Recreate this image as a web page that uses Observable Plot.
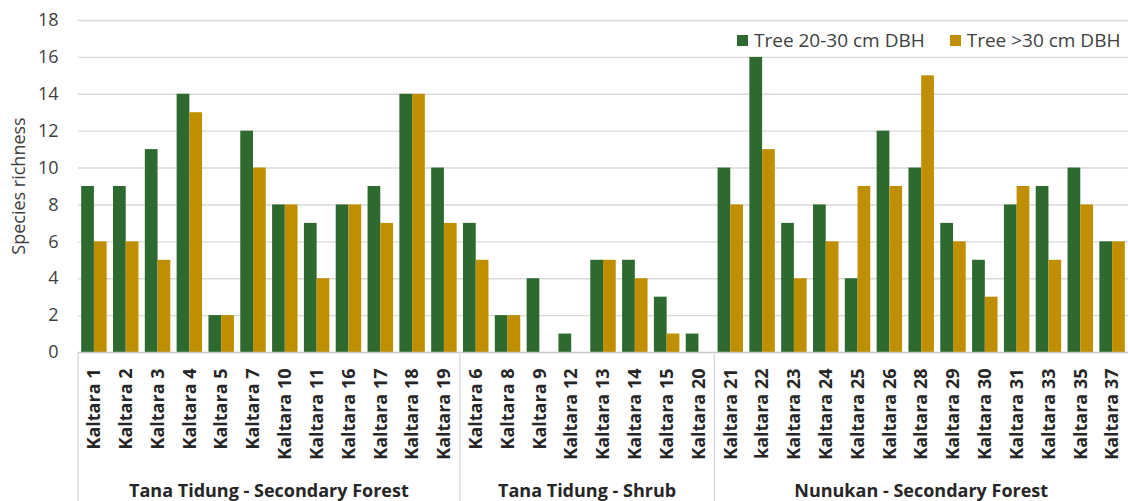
<!DOCTYPE html>
<html>
<head>
<meta charset="utf-8">
<script src="https://cdn.jsdelivr.net/npm/d3@7"></script>
<script src="https://cdn.jsdelivr.net/npm/@observablehq/plot@0.6"></script>
<style>
  html, body { margin: 0; padding: 0; background: #ffffff; }
  #chart { position: relative; width: 1128px; height: 501px; overflow: hidden; font-family: "Open Sans", sans-serif; }
  #legend { position: absolute; top: 27px; left: 737px; display: flex; align-items: center; font-size: 19px; color: #404040; white-space: nowrap; }
  #legend .sw { display: inline-block; width: 11px; height: 11px; margin-right: 6px; }
  #legend .item { display: flex; align-items: center; margin-right: 25px; }
</style>
</head>
<body>
<div id="chart"><div id="legend"></div></div>
<script>
// ---- data ----
const groupNames = ["Tana Tidung - Secondary Forest", "Tana Tidung - Shrub", "Nunukan - Secondary Forest"];
const groupSites = [
  ["Kaltara 1", "Kaltara 2", "Kaltara 3", "Kaltara 4", "Kaltara 5", "Kaltara 7", "Kaltara 10", "Kaltara 11", "Kaltara 16", "Kaltara 17", "Kaltara 18", "Kaltara 19"],
  ["Kaltara 6", "Kaltara 8", "Kaltara 9", "Kaltara 12", "Kaltara 13", "Kaltara 14", "Kaltara 15", "Kaltara 20"],
  ["Kaltara 21", "kaltara 22", "Kaltara 23", "Kaltara 24", "Kaltara 25", "Kaltara 26", "Kaltara 28", "Kaltara 29", "Kaltara 30", "Kaltara 31", "Kaltara 33", "Kaltara 35", "Kaltara 37"]
];
const tree20to30 = [9, 9, 11, 14, 2, 12, 8, 7, 8, 9, 14, 10,
                    7, 2, 4, 1, 5, 5, 3, 1,
                    10, 16, 7, 8, 4, 12, 10, 7, 5, 8, 9, 10, 6];
const treeOver30 = [6, 6, 5, 13, 2, 10, 8, 4, 8, 7, 14, 7,
                    5, 2, 0, 0, 5, 4, 1, 0,
                    8, 11, 4, 6, 9, 9, 15, 6, 3, 9, 5, 8, 6];
const seriesNames = ["Tree 20-30 cm DBH", "Tree >30 cm DBH"];
const seriesColors = ["#2e6a30", "#bf8f00"];
const yTicks = [0, 2, 4, 6, 8, 10, 12, 14, 16, 18];
const yLabel = "Species richness";

// ---- derived table ----
const sites = groupSites.flat();
const rows = sites.flatMap((s, i) => [
  {site: s, series: seriesNames[0], value: tree20to30[i]},
  {site: s, series: seriesNames[1], value: treeOver30[i]}
]);

const W = 1128, H = 501;
const M = {left: 78, right: 0, top: 20, bottom: 149};
const FONT = "'Open Sans', sans-serif";

function makePlot(half) {
  return Plot.plot({
    width: W, height: H,
    marginLeft: M.left, marginRight: M.right, marginTop: M.top, marginBottom: M.bottom,
    style: {fontFamily: FONT, fontSize: "18px", color: "#404040", background: "#ffffff", overflow: "visible"},
    x: {domain: sites, paddingInner: 0.2, paddingOuter: 0.1, round: false},
    y: {domain: [0, 18]},
    color: {domain: seriesNames, range: seriesColors},
    marks: [
      Plot.ruleY(yTicks.filter(d => d > 0), {stroke: "#d9d9d9", strokeWidth: 1.4}),
      Plot.barY(rows.filter(d => d.series === seriesNames[0]), {x: "site", y: "value", fill: "series", insetRight: half}),
      Plot.barY(rows.filter(d => d.series === seriesNames[1]), {x: "site", y: "value", fill: "series", insetLeft: half}),
      Plot.ruleY([0], {stroke: "#c8c8c8", strokeWidth: 1.4}),
      Plot.axisY({ticks: yTicks, tickSize: 0, tickPadding: 20, label: null, fontSize: 18}),
      Plot.axisX({tickRotate: -90, tickSize: 0, tickPadding: 16, label: null, fontWeight: "bold", fontSize: 18, fill: "#262626"})
    ]
  });
}

// first pass for the band width, second pass for the final chart
const probe = makePlot(0);
const bw = probe.scale("x").bandwidth;
const plot = makePlot(bw / 2);
const chart = document.getElementById("chart");
chart.insertBefore(plot, chart.firstChild);

// ---- group separators and group labels ----
const xs = plot.scale("x");
const ys = plot.scale("y");
const gap = xs.step - xs.bandwidth;
const svg = d3.select(plot);
const yBase = ys.apply(0);
const layer = svg.append("g");
groupSites.forEach((g, gi) => {
  const x0 = xs.apply(g[0]) - gap / 2;
  const x1 = xs.apply(g[g.length - 1]) + xs.bandwidth + gap / 2;
  layer.append("line")
    .attr("x1", x0).attr("x2", x0).attr("y1", yBase).attr("y2", H)
    .attr("stroke", "#d9d9d9").attr("stroke-width", 1.4);
  layer.append("text")
    .attr("x", (x0 + x1) / 2).attr("y", H - 11)
    .attr("text-anchor", "middle").attr("dominant-baseline", "central")
    .attr("font-family", FONT).attr("font-size", 18).attr("font-weight", "bold").attr("fill", "#262626")
    .text(groupNames[gi]);
});
// y axis title
layer.append("text")
  .attr("transform", `translate(18,${(ys.apply(0) + ys.apply(18)) / 2}) rotate(-90)`)
  .attr("text-anchor", "middle").attr("dominant-baseline", "central")
  .attr("font-family", FONT).attr("font-size", 18).attr("fill", "#404040")
  .text(yLabel);

// ---- legend ----
const legend = d3.select("#legend");
seriesNames.forEach((s, i) => {
  const it = legend.append("span").attr("class", "item");
  it.append("span").attr("class", "sw").style("background", seriesColors[i]);
  it.append("span").text(s);
});
</script>
</body>
</html>
